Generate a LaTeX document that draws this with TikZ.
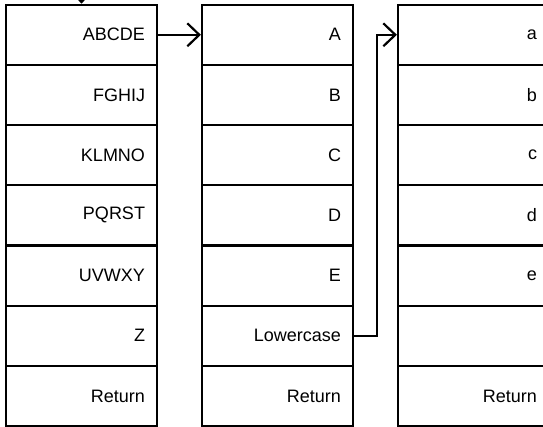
\documentclass[tikz,border=0pt]{standalone}
\usepackage{fontspec}
\setmainfont{Liberation Sans}
\usetikzlibrary{arrows.meta}
\begin{document}
\begin{tikzpicture}[x=1pt,y=-1pt,
  cell/.style={draw=black, line width=2.2pt, rectangle, minimum width=151pt, minimum height=60.2pt,
    text width=127pt, inner xsep=12pt, inner ysep=0pt, align=right,
    font=\fontsize{18}{20}\selectfont},
  arr/.style={draw=black, line width=2.2pt, -{Straight Barb[length=12pt,width=23pt,line width=2.2pt]}}]
\clip (0,0) rectangle (543,427);
\useasboundingbox (0,0) rectangle (543,427);
% left column
\foreach \t [count=\i from 0] in {ABCDE,FGHIJ,KLMNO,PQRST,UVWXY,Z,Return}{
  \node[cell] (L\i) at (81.5,{4.7+60.2*(\i+0.5)}) {\t};
}
% middle column
\foreach \t [count=\i from 0] in {A,B,C,D,E,Lowercase,Return}{
  \node[cell] (M\i) at (277.5,{4.7+60.2*(\i+0.5)}) {\t};
}
% right column
\foreach \t [count=\i from 0] in {a,b,c,d,e,{},Return}{
  \node[cell] (R\i) at (473.5,{4.7+60.2*(\i+0.5)}) {\t};
}
\coordinate (topin) at (81.5,-40);
\draw[arr] (topin) -- (L0.north);
\draw[arr] (L0.east) -- (M0.west);
\draw[arr] (M5.east) -- ++(23,0) |- (R0.west);
\end{tikzpicture}
\end{document}
